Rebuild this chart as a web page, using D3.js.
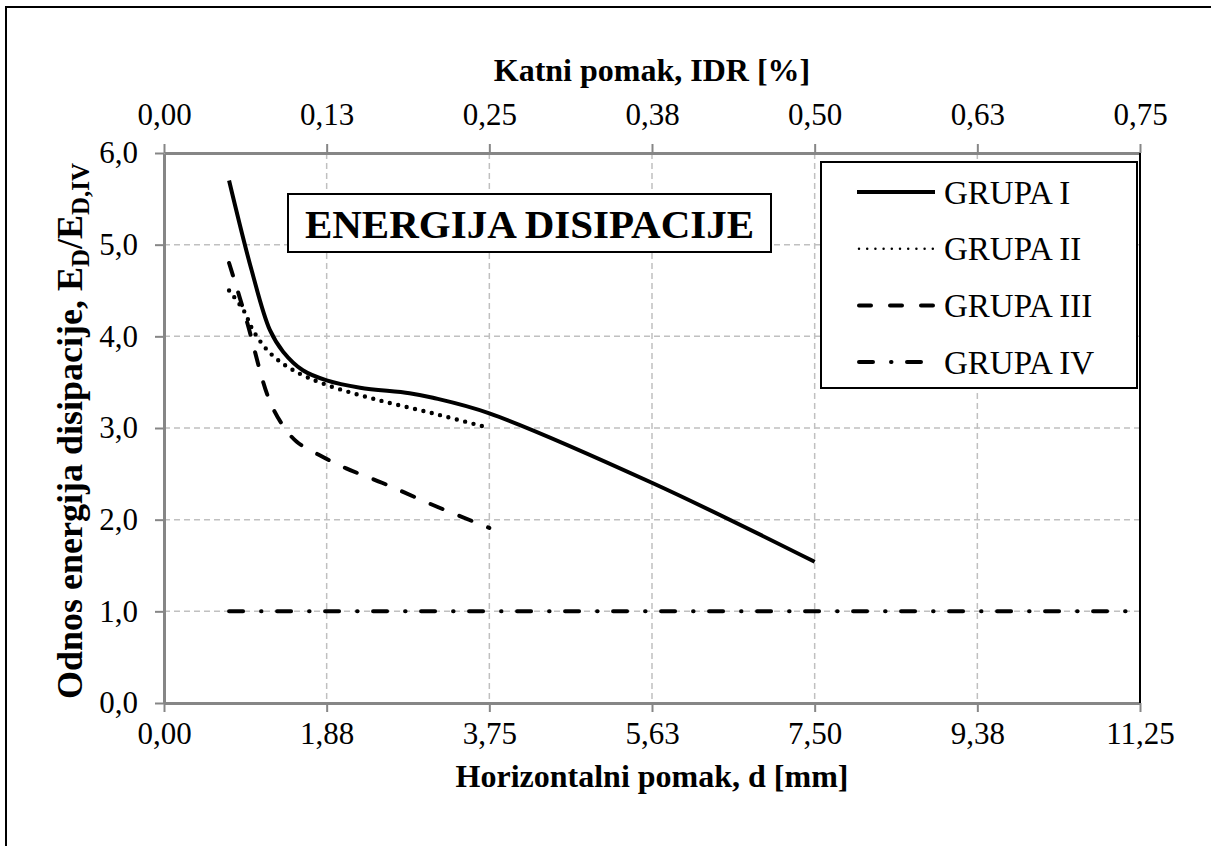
<!DOCTYPE html>
<html><head><meta charset="utf-8">
<script src="https://cdn.jsdelivr.net/npm/d3@7"></script>
<style>
html,body{margin:0;padding:0;background:#fff;}
svg{display:block;}
text{font-family:"Liberation Serif","Times New Roman",serif;fill:#000;}
</style></head>
<body>
<svg id="chart" width="1211" height="846"></svg>
<script>
// ---- data ----
const seriesNames = ["GRUPA I", "GRUPA II", "GRUPA III", "GRUPA IV"];
const xGrupa1 = [0.75, 1.01, 1.22, 1.375, 1.6, 1.875, 2.26, 2.83, 3.1, 3.75, 5.63, 7.5];
const yGrupa1 = [5.70, 4.72, 4.07, 3.83, 3.63, 3.52, 3.44, 3.38, 3.33, 3.16, 2.40, 1.54];
const xGrupa2 = [0.75, 0.92, 1.03, 1.22, 1.49, 1.875, 2.45, 3.1, 3.75];
const yGrupa2 = [4.50, 4.28, 4.06, 3.82, 3.63, 3.47, 3.31, 3.16, 3.00];
const xGrupa3 = [0.75, 0.95, 1.20, 1.355, 1.53, 1.80, 2.10, 2.52, 3.1, 3.75];
const yGrupa3 = [4.80, 4.18, 3.34, 3.05, 2.85, 2.70, 2.56, 2.40, 2.16, 1.91];
const xGrupa4 = [0.75, 11.25];
const yGrupa4 = [1.0, 1.0];
const xTickValues = [0, 1.875, 3.75, 5.625, 7.5, 9.375, 11.25];
const xTickLabels = ["0,00", "1,88", "3,75", "5,63", "7,50", "9,38", "11,25"];
const topTickValues = [0, 0.125, 0.25, 0.375, 0.5, 0.625, 0.75];
const topTickLabels = ["0,00", "0,13", "0,25", "0,38", "0,50", "0,63", "0,75"];
const yTickValues = [0, 1, 2, 3, 4, 5, 6];
const yTickLabels = ["0,0", "1,0", "2,0", "3,0", "4,0", "5,0", "6,0"];

// ---- layout ----
const svg = d3.select("#chart");
const L = 164, R = 1140, T = 153, B = 703;
const x = d3.scaleLinear().domain([0, 11.25]).range([L, R]);
const xTop = d3.scaleLinear().domain([0, 0.75]).range([L, R]);
const y = d3.scaleLinear().domain([0, 6]).range([B, T]);

// outer frame (extends past the viewport on right/bottom)
svg.append("rect").attr("x", 6).attr("y", 7).attr("width", 1260).attr("height", 900)
  .attr("fill", "#fff").attr("stroke", "#000").attr("stroke-width", 2);

// gridlines
const grid = svg.append("g");
grid.selectAll("line.h").data(yTickValues.filter(v => v > 0 && v < 6)).enter().append("line")
  .attr("x1", L).attr("x2", R).attr("y1", d => y(d)).attr("y2", d => y(d))
  .attr("stroke", "#c0c0c0").attr("stroke-width", 1.5).attr("stroke-dasharray", "6,4");
grid.selectAll("line.v").data(xTickValues.filter(v => v > 0 && v < 11.25)).enter().append("line")
  .attr("y1", T).attr("y2", B).attr("x1", d => x(d)).attr("x2", d => x(d))
  .attr("stroke", "#c0c0c0").attr("stroke-width", 1.5).attr("stroke-dasharray", "6,4");

// axes
const fmtX = d => xTickLabels[xTickValues.indexOf(d)];
const fmtTop = d => topTickLabels[topTickValues.indexOf(d)];
const fmtY = d => yTickLabels[yTickValues.indexOf(d)];

function styleAxis(g) {
  g.attr("font-family", null);
  g.select(".domain").attr("stroke", "#868686").attr("stroke-width", 3);
  g.selectAll(".tick line").attr("stroke", "#868686").attr("stroke-width", 2);
  g.selectAll(".tick text").attr("font-size", 31).attr("font-family", "Liberation Serif");
}
svg.append("g").attr("transform", `translate(0,${B})`)
  .call(d3.axisBottom(x).tickValues(xTickValues).tickFormat(fmtX).tickSize(9).tickSizeOuter(0).tickPadding(10))
  .call(styleAxis);
svg.append("g").attr("transform", `translate(0,${T})`)
  .call(d3.axisTop(xTop).tickValues(topTickValues).tickFormat(fmtTop).tickSize(9).tickSizeOuter(0).tickPadding(19))
  .call(styleAxis);
svg.append("g").attr("transform", `translate(${L},0)`)
  .call(d3.axisLeft(y).tickValues(yTickValues).tickFormat(fmtY).tickSize(9).tickSizeOuter(0).tickPadding(17))
  .call(styleAxis);
// right border of plot area
svg.append("line").attr("x1", R).attr("x2", R).attr("y1", T).attr("y2", B)
  .attr("stroke", "#000").attr("stroke-width", 2);

// series
const styles = [
  {dash: null, cap: "butt", w: 4},
  {dash: "0,8.6", cap: "round", w: 4.4},
  {dash: "13,18", cap: "round", w: 4},
  {dash: "14,18,0.5,15.5", cap: "round", w: 4}
];
const xs = [xGrupa1, xGrupa2, xGrupa3, xGrupa4];
const ys = [yGrupa1, yGrupa2, yGrupa3, yGrupa4];
const line = d3.line().x(d => x(d[0])).y(d => y(d[1])).curve(d3.curveCatmullRom.alpha(0.5));
const lineStraight = d3.line().x(d => x(d[0])).y(d => y(d[1]));
xs.forEach((xv, i) => {
  const pts = xv.map((v, j) => [v, ys[i][j]]);
  const st = styles[i];
  const p = svg.append("path").attr("d", (i === 3 ? lineStraight : line)(pts))
    .attr("fill", "none").attr("stroke", "#000").attr("stroke-width", st.w)
    .attr("stroke-linecap", st.cap).attr("stroke-linejoin", "round");
  if (st.dash) p.attr("stroke-dasharray", st.dash);
});

// title box
const tb = svg.append("g");
tb.append("rect").attr("x", 288).attr("y", 194).attr("width", 483).attr("height", 58)
  .attr("fill", "#fff").attr("stroke", "#000").attr("stroke-width", 2);
tb.append("text").attr("x", 529.5).attr("y", 238).attr("text-anchor", "middle")
  .attr("font-size", 41).attr("font-weight", "bold").text("ENERGIJA DISIPACIJE");

// legend
const lg = svg.append("g");
lg.append("rect").attr("x", 821).attr("y", 162).attr("width", 316).attr("height", 226)
  .attr("fill", "#fff").attr("stroke", "#000").attr("stroke-width", 2);
seriesNames.forEach((name, i) => {
  const cy = 192 + i * 56.7;
  const st = styles[i];
  const l = lg.append("line").attr("x1", i === 0 ? 857 : 859).attr("x2", i === 0 ? 935 : 933)
    .attr("y1", cy).attr("y2", cy).attr("stroke", "#000").attr("stroke-width", st.w)
    .attr("stroke-linecap", st.cap);
  if (i === 1) l.attr("stroke-width", 2.5).attr("stroke-dasharray", "0,8.2");
  else if (i === 2) l.attr("stroke-dasharray", "12,19");
  else if (i === 3) l.attr("stroke-dasharray", "14,18,0.5,15.5");
  lg.append("text").attr("x", 944).attr("y", cy + 11.5).attr("font-size", 33).text(name);
});

// axis titles
svg.append("text").attr("x", (L + R) / 2).attr("y", 81).attr("text-anchor", "middle")
  .attr("font-size", 32).attr("font-weight", "bold").text("Katni pomak, IDR [%]");
svg.append("text").attr("x", (L + R) / 2).attr("y", 787).attr("text-anchor", "middle")
  .attr("font-size", 32).attr("font-weight", "bold").text("Horizontalni pomak, d [mm]");
const yt = svg.append("text").attr("transform", `translate(82,431) rotate(-90)`)
  .attr("text-anchor", "middle").attr("font-size", 36).attr("font-weight", "bold");
yt.append("tspan").text("Odnos energija disipacije,  E");
yt.append("tspan").attr("font-size", 25).attr("dy", 7).text("D");
yt.append("tspan").attr("dy", -7).text("/E");
yt.append("tspan").attr("font-size", 25).attr("dy", 7).text("D,IV");
</script>
</body></html>
